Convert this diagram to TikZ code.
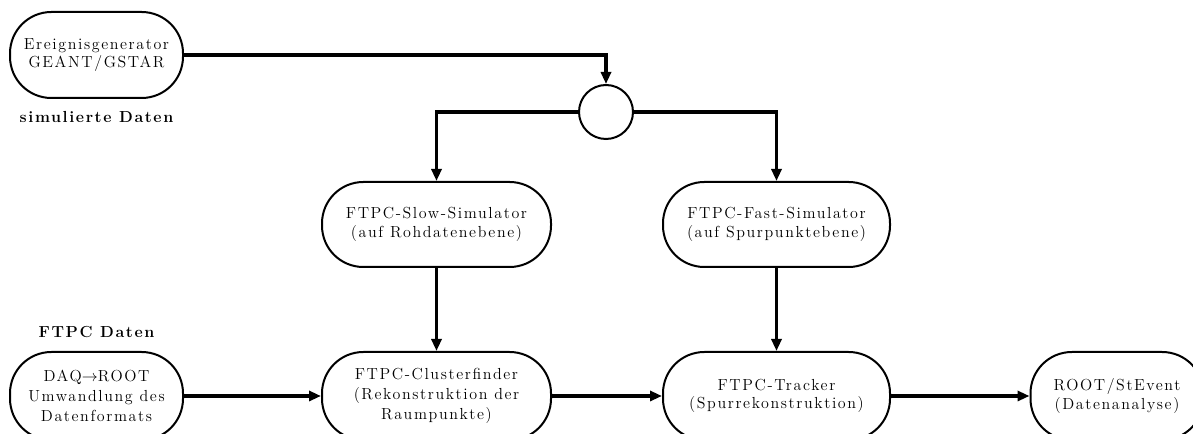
\documentclass[tikz,border=0pt]{standalone}
\usepackage{fontspec}
\setmainfont{Latin Modern Roman}[LetterSpace=10]
\usetikzlibrary{arrows.meta}
\tikzset{
  proc/.style={draw, line width=1.5pt, rounded corners=31pt, inner sep=0pt, align=center,
    font=\fontsize{12}{14}\selectfont},
  tall/.style={font=\fontsize{12}{15}\selectfont},
  junction/.style={draw, circle, line width=1.5pt, minimum size=40.5pt, inner sep=0pt},
  flow/.style={line width=2.3pt, -{Triangle[length=9pt,width=7.5pt]}},
  mainflow/.style={line width=3pt, -{Triangle[length=9pt,width=7.5pt]}},
  lbl/.style={font=\bfseries\fontsize{12}{14}\selectfont, inner sep=0pt}
}
\begin{document}
\begin{tikzpicture}[x=0.75pt, y=-0.75pt]
\useasboundingbox (0,0) rectangle (1193,434);
\clip (0,0) rectangle (1193,434);
\node[proc, minimum width=129.75pt, minimum height=64.5pt] (gen) at (96.5,55) {Ereignisgenerator\\GEANT/GSTAR};
\node[lbl] (sim) at (96.5,117) {simulierte Daten};
\node[junction] (circ) at (606,112) {};
\node[proc, minimum width=171.75pt, minimum height=63.75pt] (slow) at (436.5,224.5) {FTPC-Slow-Simulator\\(auf Rohdatenebene)};
\node[proc, minimum width=170.25pt, minimum height=63.75pt] (fast) at (776.5,224.5) {FTPC-Fast-Simulator\\(auf Spurpunktebene)};
\node[lbl] (ftpcd) at (96.5,332) {FTPC Daten};
\node[proc, tall, minimum width=129.75pt, minimum height=66pt] (daq) at (96.5,396) {DAQ$\rightarrow$ROOT\\Umwandlung des\\Datenformats};
\node[proc, tall, minimum width=171.75pt, minimum height=66pt] (clus) at (436.5,396) {FTPC-Clusterfinder\\(Rekonstruktion der\\Raumpunkte)};
\node[proc, minimum width=170.25pt, minimum height=66pt] (track) at (776.5,396) {FTPC-Tracker\\(Spurrekonstruktion)};
\node[proc, minimum width=129.75pt, minimum height=66pt] (root) at (1117,396) {ROOT/StEvent\\(Datenanalyse)};

\draw[flow] (gen.east) -| (circ.north);
\draw[flow] (circ.west) -| (slow.north);
\draw[flow] (circ.east) -| (fast.north);
\draw[flow] (slow.south) -- (clus.north);
\draw[flow] (fast.south) -- (track.north);
\draw[mainflow] (daq.east) -- (clus.west);
\draw[mainflow] (clus.east) -- (track.west);
\draw[mainflow] (track.east) -- (root.west);
\end{tikzpicture}
\end{document}
